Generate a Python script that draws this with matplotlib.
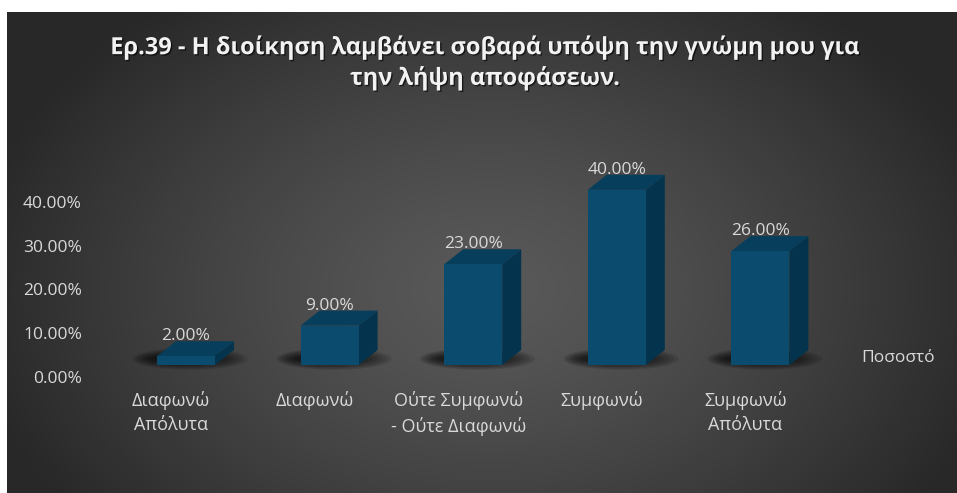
import numpy as np
import matplotlib
matplotlib.use("Agg")
import matplotlib.pyplot as plt
import matplotlib.patheffects as pe
from matplotlib.patches import Rectangle, Polygon, Ellipse
from matplotlib.transforms import ScaledTranslation

# survey answers and their share of responses (%)
categories = ["Διαφωνώ\nΑπόλυτα", "Διαφωνώ", "Ούτε Συμφωνώ\n- Ούτε Διαφωνώ",
              "Συμφωνώ", "Συμφωνώ\nΑπόλυτα"]
values = [2.0, 9.0, 23.0, 40.0, 26.0]
yticks = [0, 10, 20, 30, 40]
title = "Ερ.39 - Η διοίκηση λαμβάνει σοβαρά υπόψη την γνώμη μου για\nτην λήψη αποφάσεων."
series_name = "Ποσοστό"

W, H = 957, 493
DPI = 100
plt.rcParams['font.family'] = ['Open Sans', 'DejaVu Sans']

fig = plt.figure(figsize=(W / DPI, H / DPI), dpi=DPI)
fig.patch.set_facecolor("white")

# radial grey backdrop
bg = fig.add_axes([0, 0, 1, 1], zorder=0)
bg.set_xlim(0, W)
bg.set_ylim(H, 0)
bg.axis("off")
xs = np.arange(7, W) + 0.5
ys = np.arange(12, H) + 0.5
X, Y = np.meshgrid(xs, ys)
r = np.sqrt(((X - 490) / 520.0) ** 2 + ((Y - 290) / 360.0) ** 2)
shade = 0.35 - (0.35 - 0.16) * np.clip(r, 0, 1) ** 1.3
bg.imshow(np.dstack([shade] * 3), extent=(7, W, H, 12), aspect="auto",
          interpolation="bilinear")

# plotting area: category i front centre at 186 + 143.6*i px, 0% at y=365 px
left_px, right_px, top_px, bot_px = 100, 850, 150, 380
ax = fig.add_axes([left_px / W, 1 - bot_px / H, (right_px - left_px) / W,
                   (bot_px - top_px) / H], zorder=1)
ax.patch.set_alpha(0)
step = 143.6
ppu = 4.38
ax.set_xlim((left_px - 186) / step, (right_px - 186) / step)
ax.set_ylim(-(bot_px - 365) / ppu, (365 - top_px) / ppu)
for s in ax.spines.values():
    s.set_visible(False)

bw = 58 / step          # front face width
dx = 19 / step          # depth offset
dy = 15 / ppu

front_c = "#0A4B6E"
top_c = "#063E5C"
side_c = "#04344D"
label_c = "#D9D9D9"

for i, v in enumerate(values):
    # soft floor shadow, heavier on the left
    for k in range(8):
        f = 1 - k / 8.0
        ax.add_patch(Ellipse((i + 0.03 - 0.06 * (1 - f), 1.4), 0.40 + 0.40 * f,
                             1.2 + 3.8 * f, facecolor="black", edgecolor="none",
                             alpha=0.11, zorder=2))
    x0, x1 = i - bw / 2, i + bw / 2
    ax.add_patch(Polygon([(x1, 0), (x1 + dx, dy), (x1 + dx, v + dy), (x1, v)],
                         closed=True, facecolor=side_c, edgecolor="none", zorder=3))
    ax.add_patch(Polygon([(x0, v), (x1, v), (x1 + dx, v + dy), (x0 + dx, v + dy)],
                         closed=True, facecolor=top_c, edgecolor="none", zorder=3))
    ax.add_patch(Rectangle((x0, 0), bw, v, facecolor=front_c, edgecolor="none",
                           zorder=4))
    ax.annotate(f"{v:.2f}%", (i, v + dy), xytext=(0, 3.5), textcoords="offset points",
                ha="center", va="center", color=label_c, fontsize=12.5, zorder=5)

# axis labels
ax.set_yticks(yticks)
ax.set_yticklabels([f"{t:.2f}%" for t in yticks])
ax.set_xticks(range(len(categories)))
ax.set_xticklabels(categories, linespacing=1.45, fontsize=13)
ax.tick_params(axis="both", length=0, colors=label_c)
ax.tick_params(axis="y", pad=13, labelsize=12.5)
ax.tick_params(axis="x", pad=8)
for lab in ax.get_yticklabels():
    lab.set_transform(lab.get_transform() + ScaledTranslation(0, -12 / DPI, fig.dpi_scale_trans))
for lab in ax.get_xticklabels():
    lab.set_transform(lab.get_transform() + ScaledTranslation(-15 / DPI, 0, fig.dpi_scale_trans))

fig.text(898 / W, 1 - 358 / H, series_name, ha="center", va="center",
         color=label_c, fontsize=12.5)

fig.text(485 / W, 1 - 63 / H, title, ha="center", va="center", color="#F2F2F2",
         fontsize=17, fontweight="bold", linespacing=1.3,
         path_effects=[pe.SimplePatchShadow(offset=(1, -1), shadow_rgbFace="black",
                                            alpha=0.6), pe.Normal()])

fig.savefig("out.png", dpi=DPI)
